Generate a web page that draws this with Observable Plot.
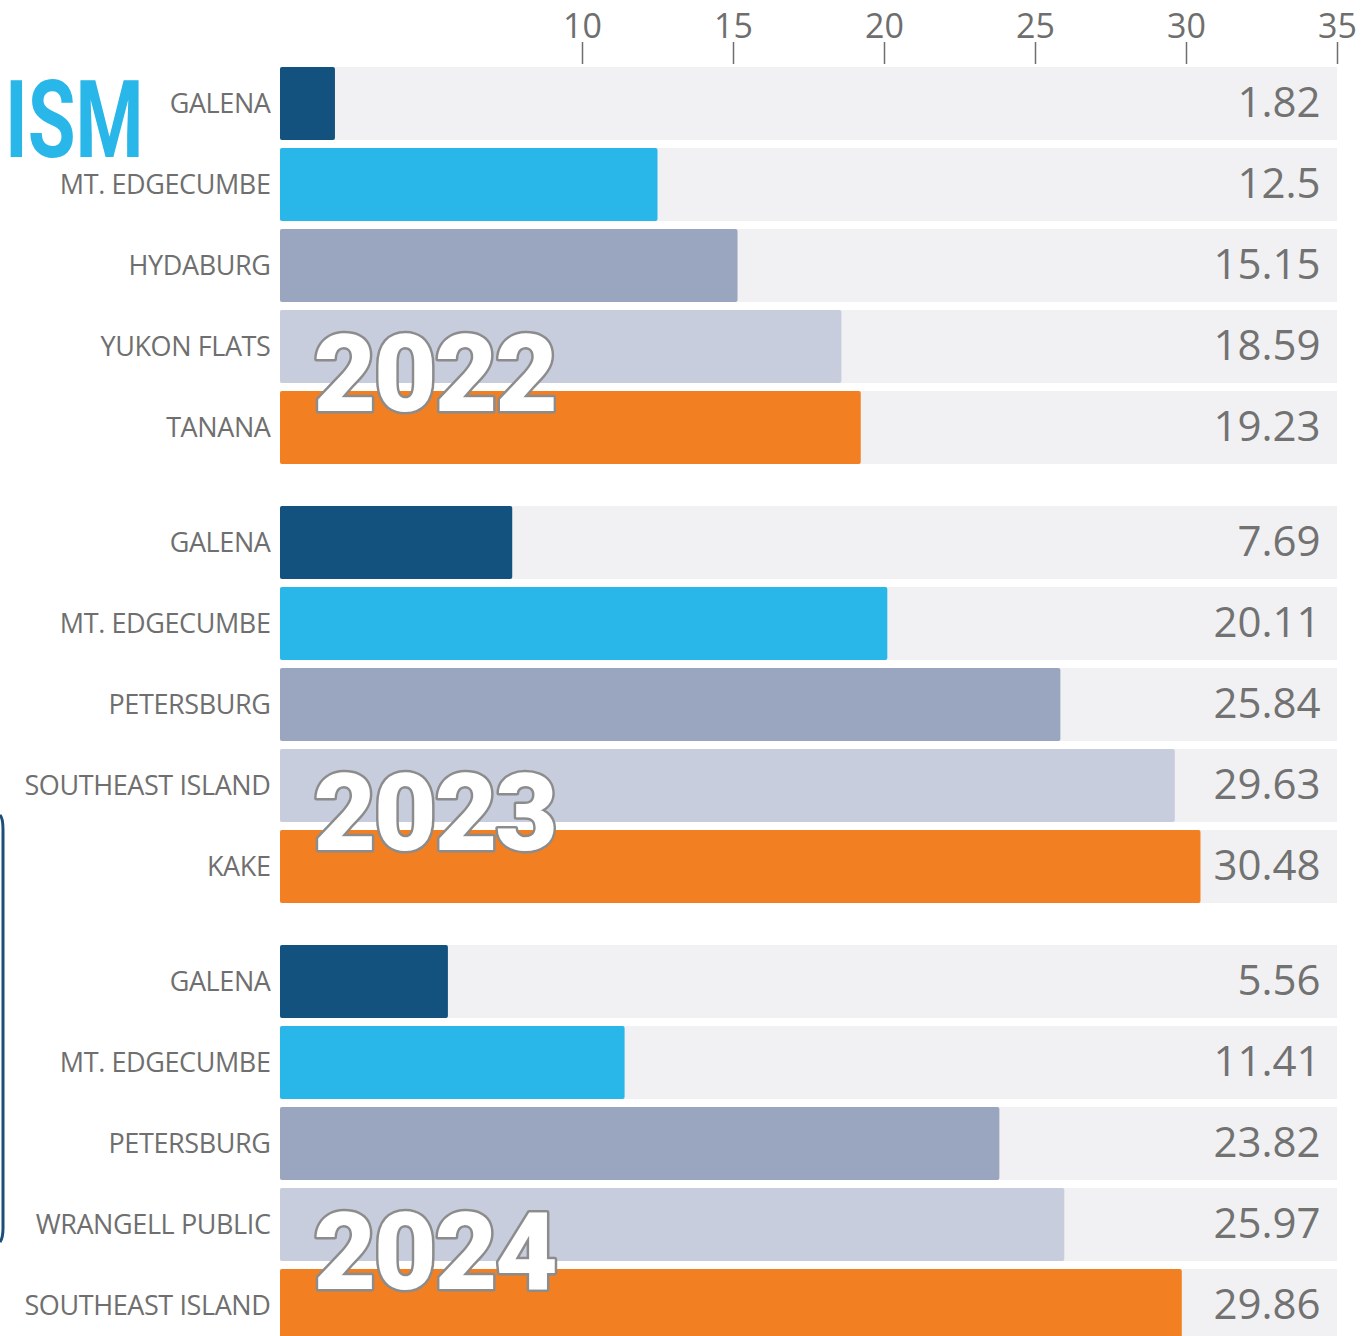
<!DOCTYPE html>
<html>
<head>
<meta charset="utf-8">
<script src="https://cdn.jsdelivr.net/npm/d3@7"></script>
<script src="https://cdn.jsdelivr.net/npm/@observablehq/plot@0.6"></script>
<style>
  html, body { margin: 0; padding: 0; background: #fff; overflow: hidden; }
  #wrap { position: relative; width: 1363px; height: 1336px; overflow: hidden; }
  #wrap svg.plot { position: absolute; left: 0; top: 0; }
  #overlay { position: absolute; left: 0; top: 0; pointer-events: none; }
  g[aria-label="x-axis tick label"] text, g[aria-label="x-axis tick label"] { font-size: 34px; fill: #6e6e6e; }
  g[aria-label="x-axis tick"] { stroke: #8a8a8a; stroke-width: 1.5; }
  .cat text, text.cat { letter-spacing: -0.4px; }
  .yr text { letter-spacing: -2px; }
</style>
</head>
<body>
<div id="wrap"></div>
<script>
// ---- data ----
const years = ["2022", "2023", "2024"];
const schools2022 = ["GALENA", "MT. EDGECUMBE", "HYDABURG", "YUKON FLATS", "TANANA"];
const values2022 = [1.82, 12.5, 15.15, 18.59, 19.23];
const schools2023 = ["GALENA", "MT. EDGECUMBE", "PETERSBURG", "SOUTHEAST ISLAND", "KAKE"];
const values2023 = [7.69, 20.11, 25.84, 29.63, 30.48];
const schools2024 = ["GALENA", "MT. EDGECUMBE", "PETERSBURG", "WRANGELL PUBLIC", "SOUTHEAST ISLAND"];
const values2024 = [5.56, 11.41, 23.82, 25.97, 29.86];
const tickValues = [10, 15, 20, 25, 30, 35];
const ranks = [0, 1, 2, 3, 4];
const rankColors = ["#13527e", "#29b6e9", "#9aa6c0", "#c7cddd", "#f27f21"];
const xMax = 35;

// ---- table ----
const schoolsByYear = [schools2022, schools2023, schools2024];
const valuesByYear = [values2022, values2023, values2024];
const rows = [];
years.forEach((yr, i) => {
  schoolsByYear[i].forEach((s, r) => {
    rows.push({ year: yr, rank: r, school: s, value: valuesByYear[i][r] });
  });
});
const yearRows = years.map(yr => ({ year: yr, rank: ranks[3] }));

const chart = Plot.plot({
  width: 1363,
  height: 1346,
  marginLeft: 280,
  marginRight: 26,
  marginTop: 63,
  marginBottom: 0,
  style: { fontFamily: "'Open Sans', sans-serif", color: "#6e6e6e", background: "transparent" },
  x: { domain: [0, xMax], axis: "top", ticks: tickValues, tickSize: 22, tickPadding: 4, label: null },
  y: { domain: ranks, paddingInner: 0.1, paddingOuter: 0.05, round: false, axis: null },
  fy: { domain: years, paddingInner: 0.0774, paddingOuter: 0, round: false, axis: null },
  color: { type: "ordinal", domain: ranks, range: rankColors },
  marks: [
    Plot.barX(rows, { x1: 0, x2: xMax, y: "rank", fy: "year", fill: "#f1f1f3" }),
    Plot.barX(rows, { x1: 0, x2: "value", y: "rank", fy: "year", fill: "rank", rx: 2 }),
    Plot.text(rows, {
      x: 0, y: "rank", fy: "year", text: "school",
      textAnchor: "end", dx: -10, fontSize: 27, fill: "#6f6f6f",
      fontFamily: "'Open Sans', sans-serif", className: "cat"
    }),
    Plot.text(rows, {
      x: xMax, y: "rank", fy: "year", text: d => String(d.value),
      textAnchor: "end", dx: -17, fontSize: 42, fill: "#727272",
      fontFamily: "'Open Sans', sans-serif"
    }),
    Plot.text(yearRows, {
      x: 0, y: "rank", fy: "year", text: "year",
      textAnchor: "start", dx: 33, dy: 29, fontSize: 108, fontWeight: 900,
      fontFamily: "Roboto, 'DejaVu Sans', sans-serif", className: "yr",
      fill: "white", stroke: "#8c8c8c", strokeWidth: 5, paintOrder: "stroke"
    })
  ]
});
chart.classList.add("plot");
document.getElementById("wrap").appendChild(chart);

// decorative page fragments (cut-off title and frame edge)
const ns = "http://www.w3.org/2000/svg";
const ov = document.createElementNS(ns, "svg");
ov.setAttribute("id", "overlay");
ov.setAttribute("width", 1363);
ov.setAttribute("height", 1336);
const t = document.createElementNS(ns, "text");
t.setAttribute("x", 0);
t.setAttribute("y", 0);
t.setAttribute("transform", "translate(5,157) scale(0.72,1)");
t.setAttribute("font-family", "Roboto, 'DejaVu Sans', sans-serif");
t.setAttribute("font-weight", "700");
t.setAttribute("font-size", "108");
t.setAttribute("fill", "#29b6e9");
t.textContent = "ISM";
ov.appendChild(t);
const p = document.createElementNS(ns, "path");
p.setAttribute("d", "M0,815 Q3,818 3,830 L3,1228 Q3,1238 0,1242");
p.setAttribute("fill", "none");
p.setAttribute("stroke", "#1b4f7a");
p.setAttribute("stroke-width", "3");
ov.appendChild(p);
document.getElementById("wrap").appendChild(ov);
</script>
</body>
</html>
